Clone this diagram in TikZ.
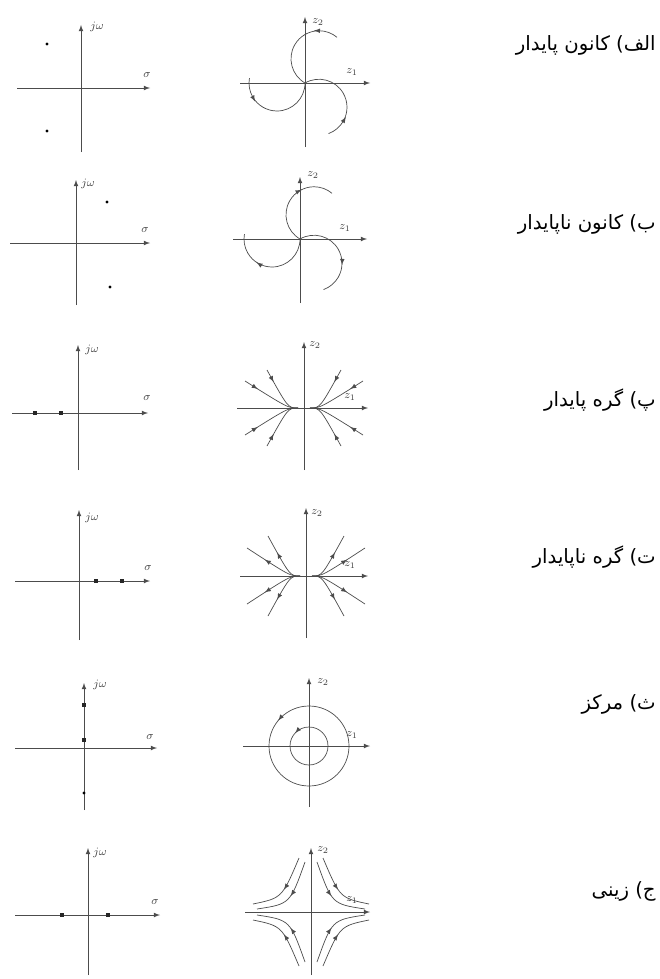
\documentclass[tikz,border=0pt]{standalone}
\usepackage{fontspec}
\usepackage{amsmath}
\newfontfamily\farsifont[Script=Arabic]{DejaVu Sans}
\TeXXeTstate=1
\usetikzlibrary{arrows, positioning, calc, decorations.markings}

\begin{document}
\begin{tikzpicture}[x=0.025cm, y=0.025cm,
    axis/.style={->, >=latex, line width=0.5pt, black!70},
    orbit/.style={line width=0.5pt, black!70},
    pole/.style={rectangle, fill=black!85, inner sep=0pt, minimum size=3.5pt},
    dot/.style={circle, fill=black, inner sep=0pt, minimum size=2.2pt},
    axlabel/.style={font=\footnotesize, inner sep=0pt, text=black!75},
    caption/.style={anchor=east, inner sep=0pt, font=\farsifont\fontsize{14}{16}\selectfont},
    flow/.style={orbit, postaction={decorate},
      decoration={markings, mark=at position #1 with {\arrow{latex}}}},
    flow/.default=0.5,
    backflow/.style={orbit, postaction={decorate},
      decoration={markings, mark=at position #1 with {\arrow{latex reversed}}}},
    backflow/.default=0.5
  ]
  \useasboundingbox (0,0) rectangle (659,-979);

  % --- ROW 1: STABLE FOCUS ---
  \begin{scope}[shift={(81,-88)}]
    \coordinate (sw1) at (-64,0); \coordinate (se1) at (69,0);
    \coordinate (ss1) at (0,-64); \coordinate (sn1) at (0,63);
    \draw[axis] (sw1) -- (se1);
    \draw[axis] (ss1) -- (sn1);
    \node[axlabel] (jw1) at (16,61) {$j\omega$};
    \node[axlabel] (sg1) at (66,13) {$\sigma$};
    \node[dot] (p1a) at (-34,44) {};
    \node[dot] (p1b) at (-34,-43) {};
  \end{scope}
  \begin{scope}[shift={(305,-83)}]
    \coordinate (zw1) at (-65,0); \coordinate (ze1) at (65,0);
    \coordinate (zs1) at (0,-64); \coordinate (zn1) at (0,66);
    \draw[axis] (zw1) -- (ze1);
    \draw[axis] (zs1) -- (zn1);
    \node[axlabel] (za1) at (13,61) {$z_2$};
    \node[axlabel] (zb1) at (47,11) {$z_1$};
    \foreach \a in {240,120,0}
      \draw[backflow=0.8] (0,0) arc[start angle=\a, delta angle=-190, radius=28];
  \end{scope}
  \node[caption] (c1) at (656,-45) {\beginR الف) کانون پایدار\endR};

  % --- ROW 2: UNSTABLE FOCUS ---
  \begin{scope}[shift={(76,-243)}]
    \coordinate (sw2) at (-66,0); \coordinate (se2) at (74,0);
    \coordinate (ss2) at (0,-62); \coordinate (sn2) at (0,63);
    \draw[axis] (sw2) -- (se2);
    \draw[axis] (ss2) -- (sn2);
    \node[axlabel] (jw2) at (12,59) {$j\omega$};
    \node[axlabel] (sg2) at (69,13) {$\sigma$};
    \node[dot] (p2a) at (31,41) {};
    \node[dot] (p2b) at (34,-44) {};
  \end{scope}
  \begin{scope}[shift={(300,-239)}]
    \coordinate (zw2) at (-67,0); \coordinate (ze2) at (67,0);
    \coordinate (zs2) at (0,-64); \coordinate (zn2) at (0,62);
    \draw[axis] (zw2) -- (ze2);
    \draw[axis] (zs2) -- (zn2);
    \node[axlabel] (za2) at (13,64) {$z_2$};
    \node[axlabel] (zb2) at (45,11) {$z_1$};
    \foreach \a in {240,120,0}
      \draw[flow=0.65] (0,0) arc[start angle=\a, delta angle=-190, radius=28];
  \end{scope}
  \node[caption] (c2) at (656,-224) {\beginR ب) کانون ناپایدار\endR};

  % --- ROW 3: STABLE NODE ---
  \begin{scope}[shift={(78,-413)}]
    \coordinate (sw3) at (-66,0); \coordinate (se3) at (70,0);
    \coordinate (ss3) at (0,-57); \coordinate (sn3) at (0,68);
    \draw[axis] (sw3) -- (se3);
    \draw[axis] (ss3) -- (sn3);
    \node[axlabel] (jw3) at (14,63) {$j\omega$};
    \node[axlabel] (sg3) at (69,15) {$\sigma$};
    \node[pole] (p3a) at (-43,0) {};
    \node[pole] (p3b) at (-17,0) {};
  \end{scope}
  \begin{scope}[shift={(304,-408)}]
    \coordinate (zw3) at (-67,0); \coordinate (ze3) at (64,0);
    \coordinate (zs3) at (0,-62); \coordinate (zn3) at (0,66);
    \draw[axis] (zw3) -- (ze3);
    \draw[axis] (zs3) -- (zn3);
    \node[axlabel] (za3) at (11,63) {$z_2$};
    \node[axlabel] (zb3) at (46,11) {$z_1$};
    \foreach \sx/\sy in {1/1,-1/1,1/-1,-1/-1} {
      \draw[backflow=0.85] (\sx*6,0) .. controls (\sx*16,0) .. (\sx*37,\sy*38);
      \draw[backflow=0.85] (\sx*6,0) .. controls (\sx*16,0) .. (\sx*59,\sy*27);
    }
  \end{scope}
  \node[caption] (c3) at (656,-400) {\beginR پ) گره پایدار\endR};

  % --- ROW 4: UNSTABLE NODE ---
  \begin{scope}[shift={(79,-581)}]
    \coordinate (sw4) at (-64,0); \coordinate (se4) at (71,0);
    \coordinate (ss4) at (0,-59); \coordinate (sn4) at (0,71);
    \draw[axis] (sw4) -- (se4);
    \draw[axis] (ss4) -- (sn4);
    \node[axlabel] (jw4) at (13,63) {$j\omega$};
    \node[axlabel] (sg4) at (69,13) {$\sigma$};
    \node[pole] (p4a) at (17,0) {};
    \node[pole] (p4b) at (43,0) {};
  \end{scope}
  \begin{scope}[shift={(306,-576)}]
    \coordinate (zw4) at (-66,0); \coordinate (ze4) at (62,0);
    \coordinate (zs4) at (0,-62); \coordinate (zn4) at (0,68);
    \draw[axis] (zw4) -- (ze4);
    \draw[axis] (zs4) -- (zn4);
    \node[axlabel] (za4) at (11,63) {$z_2$};
    \node[axlabel] (zb4) at (44,11) {$z_1$};
    \foreach \sx/\sy in {1/1,-1/1,1/-1,-1/-1} {
      \draw[flow=0.65] (\sx*6,0) .. controls (\sx*16,0) .. (\sx*38,\sy*40);
      \draw[flow=0.65] (\sx*6,0) .. controls (\sx*16,0) .. (\sx*59,\sy*28);
    }
  \end{scope}
  \node[caption] (c4) at (656,-557) {\beginR ت) گره ناپایدار\endR};

  % --- ROW 5: CENTER ---
  \begin{scope}[shift={(84,-748)}]
    \coordinate (sw5) at (-69,0); \coordinate (se5) at (73,0);
    \coordinate (ss5) at (0,-62); \coordinate (sn5) at (0,65);
    \draw[axis] (sw5) -- (se5);
    \draw[axis] (ss5) -- (sn5);
    \node[axlabel] (jw5) at (16,63) {$j\omega$};
    \node[axlabel] (sg5) at (66,11) {$\sigma$};
    \node[pole] (p5a) at (0,43) {};
    \node[pole] (p5b) at (0,8) {};
    \node[dot] (p5c) at (0,-45) {};
  \end{scope}
  \begin{scope}[shift={(309,-746)}]
    \coordinate (zw5) at (-66,0); \coordinate (ze5) at (61,0);
    \coordinate (zs5) at (0,-61); \coordinate (zn5) at (0,68);
    \draw[axis] (zw5) -- (ze5);
    \draw[axis] (zs5) -- (zn5);
    \node[axlabel] (za5) at (14,64) {$z_2$};
    \node[axlabel] (zb5) at (43,11) {$z_1$};
    \draw[flow=0.39] (40,0) arc[start angle=0, delta angle=360, radius=40];
    \draw[flow=0.38] (19,0) arc[start angle=0, delta angle=360, radius=19];
  \end{scope}
  \node[caption] (c5) at (656,-704) {\beginR ث) مرکز\endR};

  % --- ROW 6: SADDLE ---
  \begin{scope}[shift={(88,-915)}]
    \coordinate (sw6) at (-73,0); \coordinate (se6) at (72,0);
    \coordinate (ss6) at (0,-60); \coordinate (sn6) at (0,67);
    \draw[axis] (sw6) -- (se6);
    \draw[axis] (ss6) -- (sn6);
    \node[axlabel] (jw6) at (12,62) {$j\omega$};
    \node[axlabel] (sg6) at (67,13) {$\sigma$};
    \node[pole] (p6a) at (-26,0) {};
    \node[pole] (p6b) at (20,0) {};
  \end{scope}
  \begin{scope}[shift={(311,-912)}]
    \coordinate (zw6) at (-66,0); \coordinate (ze6) at (59,0);
    \coordinate (zs6) at (0,-63); \coordinate (zn6) at (0,64);
    \draw[axis] (zw6) -- (ze6);
    \draw[axis] (zs6) -- (zn6);
    \node[axlabel] (za6) at (12,62) {$z_2$};
    \node[axlabel] (zb6) at (41,12) {$z_1$};
    \foreach \sx/\sy in {1/1,-1/1,1/-1,-1/-1} {
      \draw[flow=0.5] (\sx*12,\sy*54) .. controls (\sx*29,\sy*14) .. (\sx*58,\sy*8);
      \draw[flow=0.5] (\sx*6,\sy*50) .. controls (\sx*21,\sy*8) .. (\sx*54,\sy*3);
    }
  \end{scope}
  \node[caption] (c6) at (656,-891) {\beginR ج) زینی\endR};
\end{tikzpicture}
\end{document}
